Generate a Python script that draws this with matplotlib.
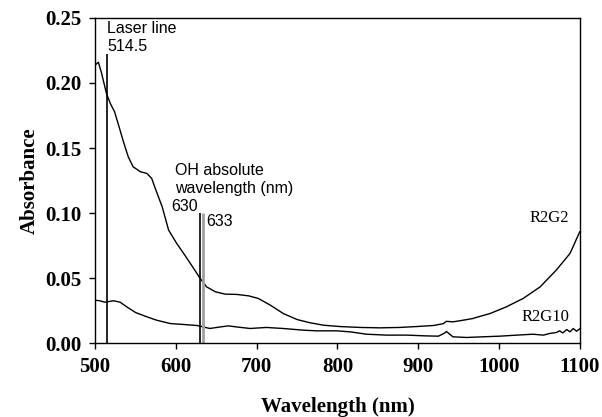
import numpy as np
import matplotlib
matplotlib.use("Agg")
import matplotlib.pyplot as plt

# Absorbance spectra
wl_r2g2 = [500, 504, 508, 514, 519, 524, 529, 535, 541, 547, 556, 564, 570, 576,
           583, 591, 601, 611, 622, 630, 638, 649, 661, 675, 690, 702, 717,
           733, 750, 766, 783, 803, 828, 853, 877, 898, 919, 931, 935, 943, 956,
           968, 972, 989, 1009, 1030, 1051, 1071, 1088, 1100]
abs_r2g2 = [0.2138, 0.216, 0.2075, 0.192, 0.184, 0.178, 0.1677, 0.155, 0.1433,
            0.1356, 0.1318, 0.1305, 0.1267, 0.1164, 0.1049, 0.0869,
            0.0767, 0.0677, 0.0575, 0.0498, 0.0433, 0.0395, 0.0377, 0.0375,
            0.0364, 0.0344, 0.0292, 0.0228, 0.0182, 0.0157, 0.0138, 0.0128,
            0.0121, 0.0118, 0.0121, 0.0128, 0.0136, 0.0150, 0.0168, 0.0164,
            0.0177, 0.0190, 0.0198, 0.0228, 0.0279, 0.0344, 0.0433, 0.0562,
            0.0690, 0.0856]

wl_r2g10 = [500, 506, 512, 523, 531, 539, 550, 564, 576, 593, 609, 626, 630, 642,
            655, 665, 675, 692, 712, 733, 758, 774, 799, 816, 836, 861, 886, 910,
            925, 932, 935, 939, 943, 960, 980, 1001, 1022, 1042, 1055, 1063, 1071,
            1075, 1079, 1084, 1088, 1092, 1096, 1100]
abs_r2g10 = [0.0330, 0.0326, 0.0315, 0.0326, 0.0315, 0.0280, 0.0236, 0.0203,
             0.0177, 0.0151, 0.0144, 0.0136, 0.0131, 0.0113, 0.0125, 0.0133,
             0.0125, 0.0113, 0.0121, 0.0113, 0.0100, 0.0095, 0.0095, 0.0087,
             0.0069, 0.0062, 0.0062, 0.0056, 0.0054, 0.0075, 0.0090, 0.0069,
             0.0049, 0.0044, 0.0049, 0.0054, 0.0062, 0.0069, 0.0062, 0.0075,
             0.0082, 0.0095, 0.0079, 0.0105, 0.0087, 0.0113, 0.0092, 0.0110]

# marker lines
laser_wl, laser_top = 514.5, 0.222
oh_wl = [630, 633]
oh_top = [0.100, 0.100]

fig = plt.figure(figsize=(6.02, 4.17), dpi=100)
ax = fig.add_axes([0.158, 0.177, 0.805, 0.78])

serif = "Liberation Serif"
sans = "Liberation Sans"

ax.plot(wl_r2g2, abs_r2g2, color="black", lw=1.0)
ax.plot(wl_r2g10, abs_r2g10, color="black", lw=1.0)

ax.vlines(laser_wl, 0, laser_top, color="black", lw=1.2)
ax.vlines(oh_wl[0], 0, oh_top[0], color="black", lw=1.2)
ax.vlines(oh_wl[1], 0, oh_top[1], color="#a0a0a0", lw=2.0)

ax.text(515, 0.2225, "Laser line\n514.5", family=sans, fontsize=11.5,
        ha="left", va="bottom", linespacing=1.25)
ax.text(599, 0.113, "OH absolute\nwavelength (nm)", family=sans, fontsize=11.5,
        ha="left", va="bottom", linespacing=1.3)
ax.text(627, 0.0995, "630", family=sans, fontsize=11.5, ha="right", va="bottom")
ax.text(637, 0.088, "633", family=sans, fontsize=11.5, ha="left", va="bottom")
ax.text(1087, 0.096, "R2G2", family=serif, fontsize=12, ha="right", va="center")
ax.text(1087, 0.020, "R2G10", family=serif, fontsize=12, ha="right", va="center")

ax.set_xlim(500, 1100)
ax.set_ylim(0, 0.25)
ax.set_xticks(np.arange(500, 1101, 100))
ax.set_yticks(np.arange(0, 0.251, 0.05))
ax.set_yticklabels([f"{v:.2f}" for v in np.arange(0, 0.251, 0.05)])
for lab in ax.get_xticklabels() + ax.get_yticklabels():
    lab.set_family(serif)
    lab.set_fontweight("bold")
    lab.set_fontsize(15)
ax.tick_params(direction="out", length=4, width=1, pad=6)
for sp in ax.spines.values():
    sp.set_linewidth(1.0)

ax.set_xlabel("Wavelength (nm)", family=serif, fontweight="bold", fontsize=15, labelpad=14)
ax.set_ylabel("Absorbance", family=serif, fontweight="bold", fontsize=15, labelpad=4)

fig.savefig("out.png", dpi=100)
